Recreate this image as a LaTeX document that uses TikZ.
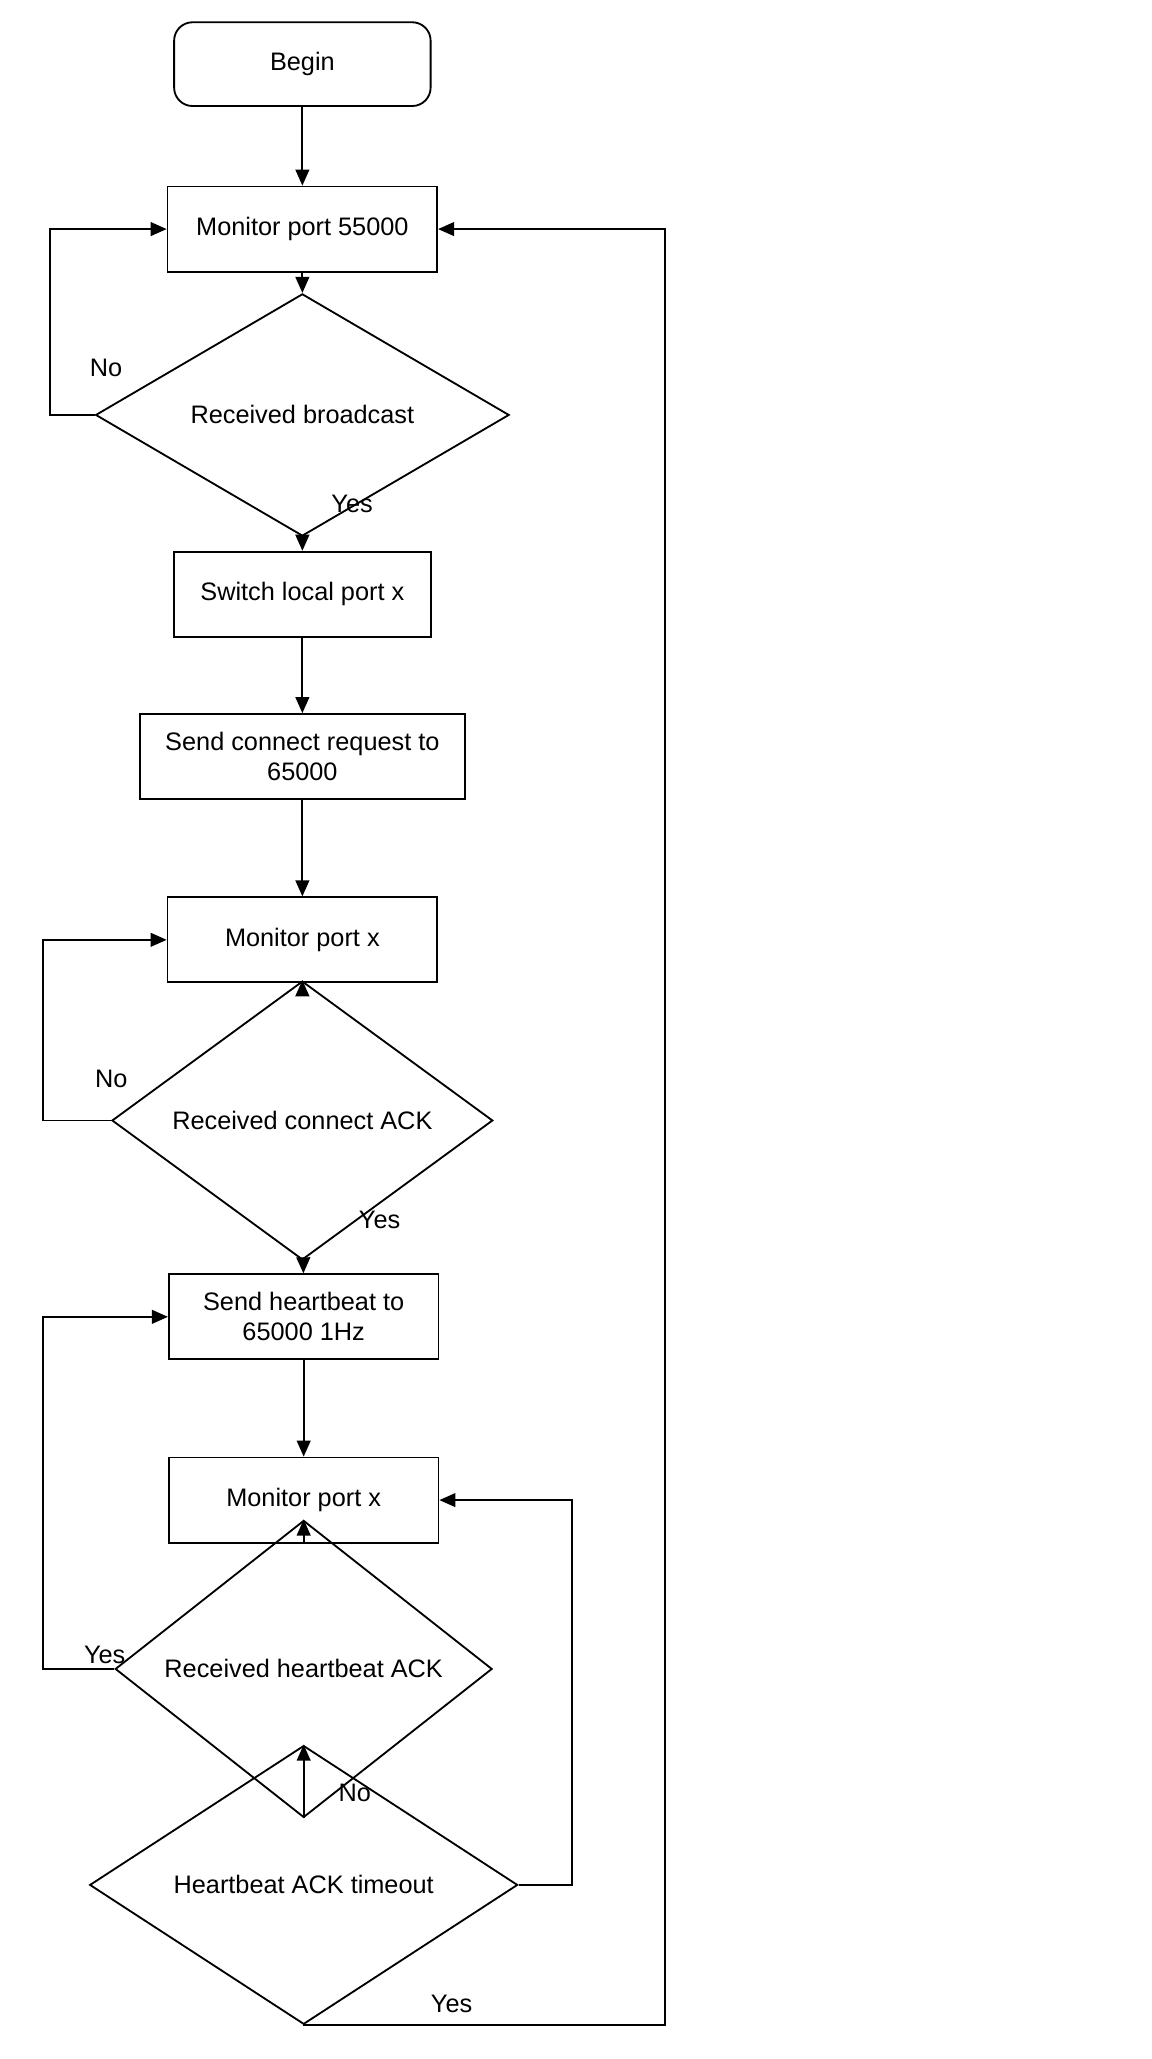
\documentclass[tikz,border=0pt]{standalone}
\usepackage{fontspec}
\setmainfont{Liberation Sans}
\usetikzlibrary{shapes.geometric}
\usetikzlibrary{arrows.meta}
\tikzset{
    startbox/.style = {rectangle, rounded corners=8pt, thick, draw=black, minimum width=3.92cm, minimum height=1.28cm, align=center},
    procbox/.style = {rectangle, thick, draw=black, minimum width=4.12cm, minimum height=1.3cm, align=center},
    testbox/.style = {diamond, thick, draw=black, inner sep=0pt, align=center},
    flow/.style = {-{Triangle[length=7pt,width=6pt]},thick},
    every node/.style={font=\fontsize{11}{13}\selectfont}
}
\begin{document}
\begin{tikzpicture}[x=0.02cm,y=-0.02cm]
\useasboundingbox (0,0) rectangle (880,1573);
%
\node[startbox] at (231,49) (begin) {Begin};
\node[procbox] at (231,175) (mon) {Monitor port 55000};
\node[testbox, minimum width=6.32cm, minimum height=2.14cm] at (231,317) (bcast) {Received broadcast};
\node[procbox, minimum width=3.92cm] at (231,454) (switch) {Switch local port x};
\node[procbox, minimum width=4.96cm] at (231,578) (req) {Send connect request to\\65000};
\node[procbox] at (231,718) (monx) {Monitor port x};
\node[testbox, minimum width=5.82cm, minimum height=2.78cm] at (231,856) (ack) {Received connect ACK};
\node[procbox] at (232,1006) (beat) {Send heartbeat to\\65000 1Hz};
\node[procbox] at (232,1146) (monb) {Monitor port x};
\node[testbox, minimum width=5.76cm, minimum height=2.5cm] at (232,1275) (back) {Received heartbeat ACK};
\node[testbox, minimum width=6.54cm, minimum height=2.22cm] at (232,1440) (tout) {Heartbeat ACK timeout};
%
\coordinate (c1) at (38,317);
\coordinate (c2) at (33,856);
\coordinate (c3) at (33,1275);
\coordinate (c4) at (437,1440);
\coordinate (c5) at (232,1547);
\coordinate (c6) at (508,1547);
%
\draw[flow] (begin) -- (mon);
\draw[flow] (mon) -- (bcast);
\draw[flow] (bcast.west) -- (c1) |- (mon.west);
\draw[flow] (bcast) -- (switch);
\draw[flow] (switch) -- (req);
\draw[flow] (req) -- (monx);
\draw[flow] (monx) -- (ack);
\draw[flow] (ack.west) -- (c2) |- (monx.west);
\draw[flow] (ack) -- (beat);
\draw[flow] (beat) -- (monb);
\draw[flow] (monb) -- (back);
\draw[flow] (back.west) -- (c3) |- (beat.west);
\draw[flow] (back) -- (tout);
\draw[flow] (tout.east) -- (c4) |- (monb.east);
\draw[flow] (tout.south) -- (c5) -- (c6) |- (mon.east);
%
\node at (81,281) (no1) {No};
\node at (269,385) (yes1) {Yes};
\node at (85,824) (no2) {No};
\node at (290,932) (yes2) {Yes};
\node at (80,1264) (yes3) {Yes};
\node at (271,1370) (no3) {No};
\node at (345,1531) (yes4) {Yes};
\end{tikzpicture}
\end{document}
